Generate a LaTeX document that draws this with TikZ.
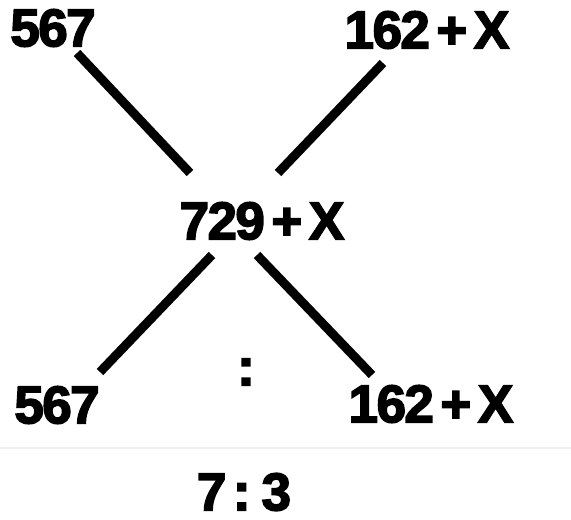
\documentclass[tikz,border=0pt]{standalone}
\usepackage{fontspec}
\usepackage{tikz}
\newfontfamily\numfont[FakeBold=3,LetterSpace=-3,WordSpace=0.5]{Liberation Sans Bold}

\begin{document}
\begin{tikzpicture}[x=1pt, y=1pt,
  num/.style={font=\numfont\fontsize{53}{53}\selectfont, inner sep=0pt},
  link/.style={line width=9pt, black}]

% Cornice
\useasboundingbox (0,0) rectangle (571,520);
\fill[white] (0,0) rectangle (571,520);

% Separatore
\draw[gray!12, line width=1.5pt] (0,72) -- (571,72);

% Numeri
\node[num] (tl)  at (53,492)  {567};
\node[num] (tr)  at (427,490) {162 + X};
\node[num] (mid) at (262,299) {729 + X};
\node[num] (bl)  at (57,115)  {567};
\node[num] (br)  at (431,116) {162 + X};
\node[num] (sep) at (246,148) {:};
\node[num] (res) at (244,28)  {7 : 3};

% Linee
\draw[link] ([shift={(24,-25)}]tl.center) -- ([shift={(-72,48)}]mid.center);
\draw[link] ([shift={(-44,-33)}]tr.center) -- ([shift={(16,48)}]mid.center);
\draw[link] ([shift={(-50,-34)}]mid.center) -- ([shift={(43,33)}]bl.center);
\draw[link] ([shift={(-5,-34)}]mid.center) -- ([shift={(-59,29)}]br.center);

\end{tikzpicture}
\end{document}
